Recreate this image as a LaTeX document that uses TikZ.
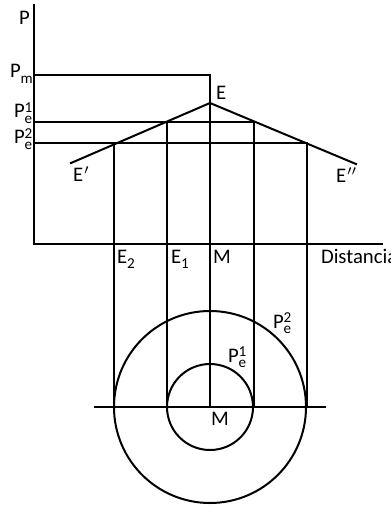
\documentclass[tikz,border=0pt]{standalone}
\usepackage{fontspec}
\setmainfont{Carlito}
\usetikzlibrary{positioning}
\newcommand{\lblfont}{\fontsize{10.4}{12}\selectfont}
\newcommand{\idxfont}{\fontsize{7.6}{8}\selectfont}
\newcommand{\Pidx}[2]{P\rlap{\raisebox{2.6bp}{\idxfont #1}}\raisebox{-2.8bp}{\idxfont #2}}
\tikzset{
  lbl/.style={anchor=base west, inner sep=0pt, font=\lblfont},
  ln/.style={line width=1bp, line cap=rect},
}

\begin{document}
\begin{tikzpicture}[x=0.5bp, y=-0.5bp, ln]
  \useasboundingbox (0,0) rectangle (391,506);
  % ejes
  \coordinate (top)  at (34,5);
  \coordinate (O)    at (34,244);
  \coordinate (xend) at (382,244);
  \draw (top) -- (O) -- (xend);
  % precios
  \coordinate (Pm)  at (34,75);
  \coordinate (Pm2) at (210,75);
  \coordinate (P1)  at (34,122);
  \coordinate (P2)  at (34,143);
  % curva de precios
  \coordinate (E)   at (210,103);
  \coordinate (Ea)  at (71,163);
  \coordinate (Eb)  at (356,164);
  \coordinate (A1)  at (167,122);
  \coordinate (B1)  at (254,122);
  \coordinate (A2)  at (114,143);
  \coordinate (B2)  at (307,143);
  \draw (Ea) -- (E) -- (Eb);
  \draw (P1) -- (B1);
  \draw (P2) -- (B2);
  % proyecciones
  \coordinate (M)   at (210,407);
  \coordinate (hl)  at (95,407);
  \coordinate (hr)  at (325,407);
  \draw (Pm) -- (Pm2) -- (M);
  \foreach \c in {A1,B1,A2,B2}
    \draw (\c) -- (\c |- M);
  \draw (hl) -- (hr);
  \draw (M) circle[radius=43];
  \draw (M) circle[radius=96];
  % textos
  \node[lbl] (tP)  at (18,25)   {P};
  \node[lbl] (tPm) at (9,78)    {\Pidx{}{m}};
  \node[lbl] (tP1) at (13,118)  {\Pidx{1}{e}};
  \node[lbl] (tP2) at (13,144)  {\Pidx{2}{e}};
  \node[lbl] (tE)  at (215,100) {E};
  \node[lbl] (tEa) at (72,182)  {E\kern.5pt$'$};
  \node[lbl] (tEb) at (335,183) {E\kern.5pt$''$};
  \node[lbl] (tE2) at (116,263) {E\raisebox{-2.8bp}{\idxfont 2}};
  \node[lbl] (tE1) at (170,263) {E\raisebox{-2.8bp}{\idxfont 1}};
  \node[lbl] (tM)  at (212,263) {M};
  \node[lbl] (tD)  at (320,263) {Distancia};
  \node[lbl] (tC2) at (272,328) {\Pidx{2}{e}};
  \node[lbl] (tC1) at (227,362) {\Pidx{1}{e}};
  \node[lbl] (tMc) at (210,425) {M};
\end{tikzpicture}
\end{document}
